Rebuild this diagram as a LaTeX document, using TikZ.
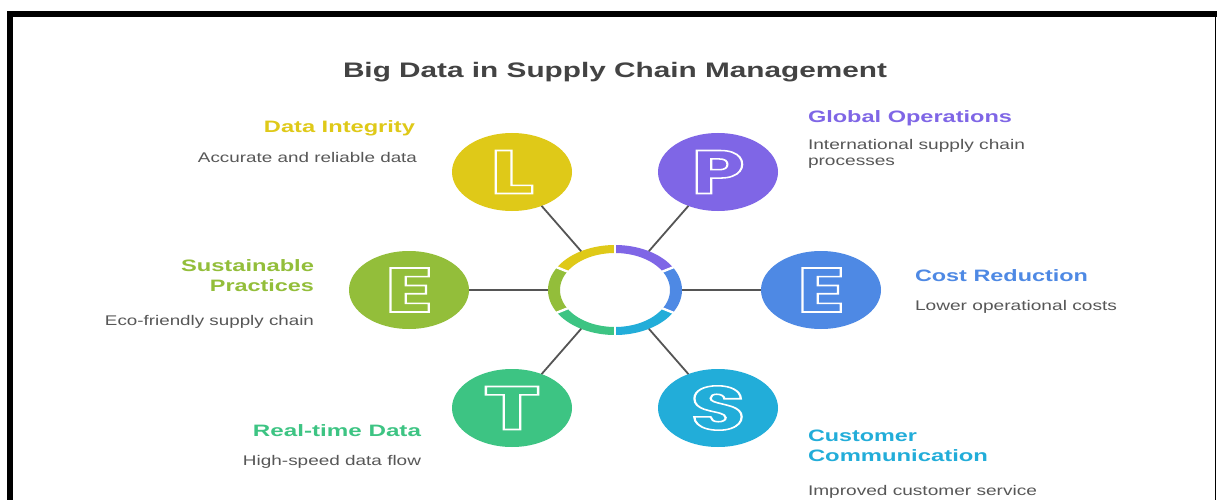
\documentclass[tikz,border=0pt]{standalone}
\usepackage{fontspec}
\usepackage{graphicx}
\usetikzlibrary{shapes.geometric}
\setmainfont{Liberation Sans}
\newfontfamily\glyphfont{Poppins}

\definecolor{cYellow}{HTML}{DFC918}
\definecolor{cPurple}{HTML}{7F66E6}
\definecolor{cBlue}{HTML}{4E89E4}
\definecolor{cCyan}{HTML}{22ADD9}
\definecolor{cGreen}{HTML}{3DC483}
\definecolor{cOlive}{HTML}{93BE3A}
\definecolor{cLine}{HTML}{555555}
\definecolor{cTitle}{HTML}{434343}
\definecolor{cDesc}{HTML}{575757}

% stretch a line of text to a given width (in pt), keeping its height
\newcommand\fitw[2]{\resizebox{#1pt}{\height}{#2}}
% outlined (stroked) glyphs
\newcommand\hollow[1]{\special{pdf:literal direct 1 Tr 1.5 w}#1\special{pdf:literal direct 0 Tr}}
% one coloured piece of the central ring, between two parametric angles
\newcommand\ringseg[3]{%
  \fill[#3] plot[domain=#1:#2, samples=30] ({615+67*cos(\x)},{290-45*sin(\x)})
    -- plot[domain=#2:#1, samples=30] ({615+55*cos(\x)},{290-37*sin(\x)}) -- cycle;}

\tikzset{
  blob/.style={ellipse, minimum width=120pt, minimum height=78pt, inner sep=0pt, outer sep=0pt, fill=#1, draw=none},
  glyph/.style={inner sep=0pt, text=white, font=\glyphfont\bfseries\fontsize{60}{60}\selectfont},
  conn/.style={draw=cLine, line width=1.8pt},
  head/.style={inner sep=0pt, outer sep=0pt, font=\bfseries\fontsize{16.5}{20}\selectfont},
  desc/.style={inner sep=0pt, outer sep=0pt, text=cDesc, font=\fontsize{14}{17}\selectfont},
  heading/.style={inner sep=0pt, outer sep=0pt, text=cTitle, font=\bfseries\fontsize{21}{25}\selectfont}
}

\begin{document}
\begin{tikzpicture}[x=1pt, y=-1pt]
\useasboundingbox (0,0) rectangle (1218,500);
\fill[white] (0,0) rectangle (1218,500);

% frame
\draw[line width=5.4pt, line join=miter] (10,502) -- (10,14.2) -- (1217,14.2);
\draw[line width=1.3pt] (1215.8,14) -- (1215.8,502);

% title
\node[heading, anchor=base west] (title) at (343,78) {\fitw{544}{Big Data in Supply Chain Management}};

% central ring
\node[ellipse, minimum width=134pt, minimum height=90pt, inner sep=0pt, outer sep=0pt] (hub) at (615,290) {};
\ringseg{30}{90}{cPurple}
\ringseg{90}{150}{cYellow}
\ringseg{150}{210}{cOlive}
\ringseg{210}{270}{cGreen}
\ringseg{270}{330}{cCyan}
\ringseg{-30}{30}{cBlue}
\foreach \a in {30,90,150,210,270,330}
  \draw[white, line width=2.4pt] ({615+53*cos(\a)},{290-35.5*sin(\a)}) -- ({615+69.5*cos(\a)},{290-47*sin(\a)});

% outer ellipses
\node[blob=cYellow] (eL) at (512,172) {};
\node[blob=cPurple] (eP) at (718,172) {};
\node[blob=cOlive]  (eE1) at (409,290) {};
\node[blob=cBlue]   (eE2) at (821,290) {};
\node[blob=cGreen]  (eT) at (512,408) {};
\node[blob=cCyan]   (eS) at (718,408) {};

% connectors
\draw[conn] (hub) -- (eL);
\draw[conn] (hub) -- (eP);
\draw[conn] (hub) -- (eE1);
\draw[conn] (hub) -- (eE2);
\draw[conn] (hub) -- (eT);
\draw[conn] (hub) -- (eS);

% letters
\node[glyph] (gL) at (512,172) {\hollow{\resizebox{44pt}{43pt}{L}}};
\node[glyph] (gP) at (718,172) {\hollow{\resizebox{53pt}{43pt}{P}}};
\node[glyph] (gE1) at (409,290) {\hollow{\resizebox{48pt}{44pt}{E}}};
\node[glyph] (gE2) at (821,290) {\hollow{\resizebox{48pt}{44pt}{E}}};
\node[glyph] (gT) at (512,408) {\hollow{\resizebox{57pt}{43pt}{T}}};
\node[glyph] (gS) at (718,408) {\hollow{\resizebox{55pt}{44pt}{S}}};

% labels, left side
\node[head, text=cYellow, anchor=base east] (hL) at (415,133) {\fitw{151}{Data Integrity}};
\node[desc, anchor=base east] (dL) at (417,162) {\fitw{219}{Accurate and reliable data}};

\node[head, text=cOlive, anchor=base east] (hE1a) at (314,271) {\fitw{133}{Sustainable}};
\node[head, text=cOlive, anchor=base east] (hE1b) at (314,291) {\fitw{104}{Practices}};
\node[desc, anchor=base east] (dE1) at (314,325) {\fitw{209}{Eco-friendly supply chain}};

\node[head, text=cGreen, anchor=base east] (hT) at (421,436) {\fitw{168}{Real-time Data}};
\node[desc, anchor=base east] (dT) at (421,465) {\fitw{178}{High-speed data flow}};

% labels, right side
\node[head, text=cPurple, anchor=base west] (hP) at (808,123) {\fitw{204}{Global Operations}};
\node[desc, anchor=base west] (dPa) at (808,149.5) {\fitw{217}{International supply chain}};
\node[desc, anchor=base west] (dPb) at (808,165.5) {\fitw{87}{processes}};

\node[head, text=cBlue, anchor=base west] (hE2) at (915,281) {\fitw{173}{Cost Reduction}};
\node[desc, anchor=base west] (dE2) at (915,310) {\fitw{202}{Lower operational costs}};

\node[head, text=cCyan, anchor=base west] (hSa) at (808,441) {\fitw{109}{Customer}};
\node[head, text=cCyan, anchor=base west] (hSb) at (808,461) {\fitw{180}{Communication}};
\node[desc, anchor=base west] (dS) at (808,495) {\fitw{229}{Improved customer service}};
\end{tikzpicture}
\end{document}
